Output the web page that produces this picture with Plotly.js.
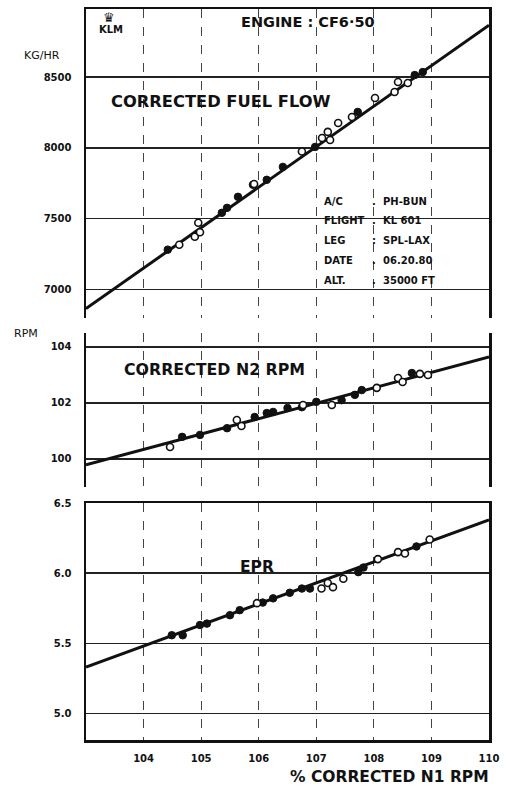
<!DOCTYPE html>
<html><head><meta charset="utf-8">
<script src="https://cdn.plot.ly/plotly-3.0.1.min.js"></script>
<style>html,body{margin:0;padding:0;background:#fff;}#chart{width:506px;height:793px;}</style>
</head><body><div id="chart"></div>
<script>
// x axis: % corrected N1 RPM
const xTicks = [104, 105, 106, 107, 108, 109, 110];
const lineX = [103, 110];

// Corrected fuel flow (KG/HR)
const fuelTicks = [7000, 7500, 8000, 8500];
const fuelLine = [6866, 8866];
const fuelFilledX = [104.42, 105.36, 105.45, 105.64, 105.9, 106.14, 106.42, 106.98, 107.72, 108.71, 108.85];
const fuelFilledY = [7282, 7542, 7577, 7655, 7740, 7775, 7866, 8007, 8254, 8514, 8535];
const fuelOpenX = [104.62, 104.89, 104.95, 104.98, 105.92, 106.75, 107.1, 107.2, 107.24, 107.38, 107.62, 108.02, 108.36, 108.42, 108.59];
const fuelOpenY = [7317, 7373, 7472, 7405, 7745, 7975, 8070, 8113, 8056, 8176, 8218, 8352, 8394, 8465, 8458];

// Corrected N2 RPM
const n2Ticks = [100, 102, 104];
const n2Line = [99.79, 103.64];
const n2FilledX = [104.67, 104.98, 105.45, 105.93, 106.14, 106.25, 106.5, 106.75, 107.0, 107.44, 107.67, 107.79, 108.66];
const n2FilledY = [100.79, 100.86, 101.1, 101.5, 101.64, 101.68, 101.82, 101.85, 102.04, 102.1, 102.29, 102.46, 103.07];
const n2OpenX = [104.46, 105.62, 105.7, 106.77, 107.27, 108.05, 108.42, 108.5, 108.8, 108.94];
const n2OpenY = [100.43, 101.39, 101.18, 101.93, 101.93, 102.54, 102.89, 102.75, 103.04, 103.0];

// EPR
const eprTicks = [5.0, 5.5, 6.0, 6.5];
const eprTickText = ["5.0", "5.5", "6.0", "6.5"];
const eprLine = [5.33, 6.38];
const eprFilledX = [104.49, 104.68, 104.98, 105.1, 105.5, 105.67, 106.07, 106.25, 106.54, 106.75, 106.89, 107.73, 107.82, 108.74];
const eprFilledY = [5.557, 5.557, 5.63, 5.64, 5.70, 5.736, 5.79, 5.82, 5.86, 5.89, 5.89, 6.007, 6.04, 6.19];
const eprOpenX = [105.97, 107.09, 107.2, 107.29, 107.47, 108.07, 108.42, 108.54, 108.97];
const eprOpenY = [5.786, 5.89, 5.93, 5.90, 5.96, 6.1, 6.15, 6.14, 6.24];

// Info block
const infoLabels = ["A/C", "FLIGHT", "LEG", "DATE", "ALT."];
const infoValues = ["PH-BUN", "KL 601", "SPL-LAX", "06.20.80", "35000 FT"];

const FONT = "DejaVu Sans, Verdana, sans-serif";
const lineStyle = {color: "#111", width: 3};
const filledMk = {symbol: "circle", size: 7.5, color: "#111", line: {color: "#111", width: 1}};
const openMk = {symbol: "circle", size: 7, color: "#fff", line: {color: "#111", width: 1.6}};

function panel(xa, ya, lineY, fx, fy, ox, oy) {
  return [
    {x: lineX, y: lineY, xaxis: xa, yaxis: ya, mode: "lines", line: lineStyle, hoverinfo: "skip"},
    {x: fx, y: fy, xaxis: xa, yaxis: ya, mode: "markers", marker: filledMk},
    {x: ox, y: oy, xaxis: xa, yaxis: ya, mode: "markers", marker: openMk}
  ];
}

const data = [].concat(
  panel("x3", "y3", fuelLine, fuelFilledX, fuelFilledY, fuelOpenX, fuelOpenY),
  panel("x2", "y2", n2Line, n2FilledX, n2FilledY, n2OpenX, n2OpenY),
  panel("x", "y", eprLine, eprFilledX, eprFilledY, eprOpenX, eprOpenY)
);

const tickFont = {family: FONT, size: 10, color: "#111", weight: "bold"};
const xCommon = {
  range: [103, 110], tickvals: xTicks, ticktext: xTicks.map(String),
  showgrid: true, gridcolor: "#444", gridwidth: 1, griddash: "dash",
  zeroline: false, ticks: "", fixedrange: true
};
const yCommon = {
  showgrid: true, gridcolor: "#222", gridwidth: 1.3, zeroline: false, ticks: "",
  showline: true, linecolor: "#111", linewidth: 2.5, tickfont: tickFont, ticklabelstandoff: 10
};

function px2paper(px, py) { return {x: (px - 86) / 403, y: (740 - py) / 731}; }
function addText(arr, text, px, py, size, anchor, weight, family) {
  const p = px2paper(px, py);
  arr.push({text: text, x: p.x, y: p.y, xref: "paper", yref: "paper", showarrow: false,
    xanchor: anchor || "center", yanchor: "middle",
    font: {family: family || FONT, size: size, color: "#111", weight: weight || "bold"}});
}

const ann = [];
addText(ann, "ENGINE : CF6·50", 308, 22, 14.5);
addText(ann, "CORRECTED FUEL FLOW", 221, 101, 16.3);
addText(ann, "CORRECTED N2 RPM", 214, 369, 15.8);
addText(ann, "EPR", 257, 567, 15.5);
infoLabels.forEach(function (lab, i) {
  const py = 201 + i * 19.8;
  addText(ann, lab, 322, py, 10, "left");
  addText(ann, (i === 2 ? ":" : "."), 374, py, 10);
  addText(ann, infoValues[i], 381, py, 10, "left");
});
addText(ann, "KG/HR", 42, 55, 11, "center", "normal");
addText(ann, "RPM", 26, 333, 11, "center", "normal");
// KLM logo
addText(ann, "♛", 109, 17, 13, "center", "normal", "DejaVu Sans");
addText(ann, "KLM", 111, 30, 10, "center", "bold");
// x axis title
addText(ann, "% CORRECTED N1 RPM", 491, 777, 15.5, "right");

const layout = {
  width: 506, height: 793,
  margin: {l: 86, r: 17, t: 9, b: 53},
  paper_bgcolor: "#fff", plot_bgcolor: "#fff",
  showlegend: false,
  font: {family: FONT, color: "#111"},
  xaxis: Object.assign({}, xCommon, {anchor: "y", showticklabels: true, tickfont: tickFont, ticklabelstandoff: 7,
    showline: true, linecolor: "#111", linewidth: 2.5, mirror: true}),
  xaxis2: Object.assign({}, xCommon, {anchor: "y2", matches: "x", showticklabels: false, showline: false}),
  xaxis3: Object.assign({}, xCommon, {anchor: "y3", matches: "x", showticklabels: false, side: "top",
    showline: true, linecolor: "#111", linewidth: 2.5}),
  yaxis: Object.assign({}, yCommon, {domain: [0, 0.3242], range: [4.81, 6.5], tickvals: eprTicks, ticktext: eprTickText, mirror: true}),
  yaxis2: Object.assign({}, yCommon, {domain: [0.3461, 0.5568], range: [99, 104.5], tickvals: n2Ticks, ticktext: n2Ticks.map(String), mirror: true}),
  yaxis3: Object.assign({}, yCommon, {domain: [0.5773, 1], range: [6800, 8980], tickvals: fuelTicks, ticktext: fuelTicks.map(String), mirror: true}),
  annotations: ann
};

Plotly.newPlot("chart", data, layout, {displayModeBar: false, staticPlot: true});
</script>
</body></html>
